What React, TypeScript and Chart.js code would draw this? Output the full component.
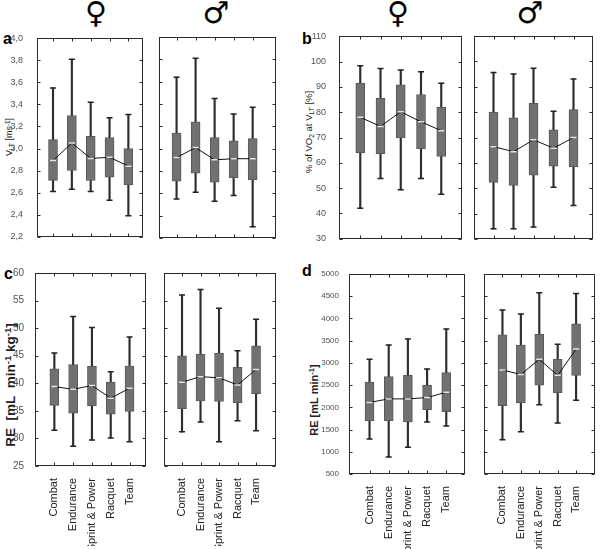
import React, { useEffect, useRef } from "react";
import { Chart, registerables } from "chart.js";

Chart.register(...registerables);

// ---------- categories ----------
const categories = ["Combat", "Endurance", "Sprint & Power", "Racquet", "Team"];

// ---------- panel a : V_LT [m s-1] ----------
const vltFemaleMin = [2.61, 2.63, 2.61, 2.53, 2.39];
const vltFemaleQ1 = [2.71, 2.8, 2.71, 2.74, 2.67];
const vltFemaleMedian = [2.89, 3.05, 2.91, 2.92, 2.84];
const vltFemaleQ3 = [3.08, 3.3, 3.11, 3.1, 3.0];
const vltFemaleMax = [3.55, 3.81, 3.42, 3.28, 3.31];

const vltMaleMin = [2.55, 2.61, 2.53, 2.58, 2.3];
const vltMaleQ1 = [2.71, 2.78, 2.7, 2.74, 2.72];
const vltMaleMedian = [2.92, 3.01, 2.9, 2.91, 2.91];
const vltMaleQ3 = [3.14, 3.24, 3.1, 3.07, 3.09];
const vltMaleMax = [3.64, 3.81, 3.45, 3.31, 3.37];

// ---------- panel b : % of VO2 at V_LT ----------
const pctFemaleMin = [42, 53.8, 49.3, 53.8, 47.5];
const pctFemaleQ1 = [64, 63.6, 69.8, 65.6, 62.5];
const pctFemaleMedian = [78, 74.4, 80.2, 76.2, 72.7];
const pctFemaleQ3 = [91.5, 85.5, 90.8, 87, 82];
const pctFemaleMax = [98.4, 97.3, 96.7, 96, 91.5];

const pctMaleMin = [34, 34, 34.7, 50.4, 43.2];
const pctMaleQ1 = [52.3, 51.1, 55.2, 58.7, 58.5];
const pctMaleMedian = [66.4, 64.4, 69.1, 65.8, 70];
const pctMaleQ3 = [80, 77.8, 83.5, 73, 81];
const pctMaleMax = [95.6, 95, 97.3, 80.3, 93.1];

// ---------- panel c : RE [mL min-1 kg-1] ----------
const reKgFemaleMin = [31.5, 28.6, 29.7, 30.1, 29.4];
const reKgFemaleQ1 = [36, 34.6, 35.9, 34.4, 34.9];
const reKgFemaleMedian = [39.4, 38.9, 39.6, 37.3, 39.1];
const reKgFemaleQ3 = [42.6, 43.4, 43.1, 40.2, 43.1];
const reKgFemaleMax = [45.5, 52.1, 50.1, 42.1, 48.4];

const reKgMaleMin = [31.2, 33, 29.4, 33.2, 31.4];
const reKgMaleQ1 = [35.4, 36.8, 36.7, 36.5, 38.1];
const reKgMaleMedian = [40.2, 41.2, 41, 39.7, 42.5];
const reKgMaleQ3 = [45, 45.3, 45.5, 42.9, 46.8];
const reKgMaleMax = [56, 57, 53.6, 45.9, 51.6];

// ---------- panel d : RE [mL min-1] ----------
const reAbsFemaleMin = [1290, 880, 1100, 1670, 1580];
const reAbsFemaleQ1 = [1700, 1700, 1670, 1950, 1900];
const reAbsFemaleMedian = [2110, 2190, 2190, 2220, 2340];
const reAbsFemaleQ3 = [2560, 2690, 2720, 2500, 2780];
const reAbsFemaleMax = [3080, 3400, 3540, 2860, 3760];

const reAbsMaleMin = [1270, 1450, 2060, 1650, 2160];
const reAbsMaleQ1 = [2040, 2100, 2500, 2330, 2720];
const reAbsMaleMedian = [2840, 2740, 3080, 2720, 3310];
const reAbsMaleQ3 = [3630, 3400, 3640, 3080, 3880];
const reAbsMaleMax = [4190, 4100, 4580, 3420, 4560];

// ---------- axis ranges ----------
const vltAxis = { min: 2.2, max: 4.0, step: 0.2 };
const pctAxis = { min: 30, max: 110, step: 10 };
const reKgAxis = { min: 25, max: 60, step: 5 };
const reAbsAxis = { min: 500, max: 5000, step: 500 };

type Stats = { min: number[]; q1: number[]; med: number[]; q3: number[]; max: number[] };
type Spec = {
  l: number; t: number; r: number; b: number;
  xMin: number; xMax: number;
  axis: { min: number; max: number; step: number };
  stats: Stats;
  yLabels: boolean; xLabels: boolean;
  yFontSize: number; yPad: number;
  fmt: (v: number) => string;
  pr: number;
};

const comma = (v: number) => v.toFixed(1).replace(".", ",");
const plain = (v: number) => String(Math.round(v));
const TICKFONT = 'Arial, "Liberation Sans", sans-serif';

const panels: Spec[] = [
  { l: 37, t: 37, r: 144, b: 238, xMin: 0.15, xMax: 5.75, axis: vltAxis,
    stats: { min: vltFemaleMin, q1: vltFemaleQ1, med: vltFemaleMedian, q3: vltFemaleQ3, max: vltFemaleMax },
    yLabels: true, xLabels: false, yFontSize: 9, yPad: 6, fmt: comma, pr: 4 },
  { l: 157, t: 37, r: 277, b: 238, xMin: 0.05, xMax: 6.2, axis: vltAxis,
    stats: { min: vltMaleMin, q1: vltMaleQ1, med: vltMaleMedian, q3: vltMaleQ3, max: vltMaleMax },
    yLabels: false, xLabels: false, yFontSize: 9, yPad: 6, fmt: comma, pr: 4 },
  { l: 339, t: 36, r: 463, b: 239, xMin: -0.05, xMax: 6.0, axis: pctAxis,
    stats: { min: pctFemaleMin, q1: pctFemaleQ1, med: pctFemaleMedian, q3: pctFemaleQ3, max: pctFemaleMax },
    yLabels: true, xLabels: false, yFontSize: 9, yPad: 5, fmt: plain, pr: 4 },
  { l: 472, t: 36, r: 594, b: 239, xMin: 0.0, xMax: 5.95, axis: pctAxis,
    stats: { min: pctMaleMin, q1: pctMaleQ1, med: pctMaleMedian, q3: pctMaleQ3, max: pctMaleMax },
    yLabels: false, xLabels: false, yFontSize: 9, yPad: 5, fmt: plain, pr: 4 },
  { l: 35, t: 273, r: 147, b: 466, xMin: -0.03, xMax: 5.85, axis: reKgAxis,
    stats: { min: reKgFemaleMin, q1: reKgFemaleQ1, med: reKgFemaleMedian, q3: reKgFemaleQ3, max: reKgFemaleMax },
    yLabels: true, xLabels: true, yFontSize: 10, yPad: 3, fmt: plain, pr: 4 },
  { l: 162, t: 273, r: 277, b: 466, xMin: 0.0, xMax: 6.05, axis: reKgAxis,
    stats: { min: reKgMaleMin, q1: reKgMaleQ1, med: reKgMaleMedian, q3: reKgMaleQ3, max: reKgMaleMax },
    yLabels: false, xLabels: true, yFontSize: 10, yPad: 3, fmt: plain, pr: 4 },
  { l: 349, t: 274, r: 466, b: 474, xMin: -0.07, xMax: 5.95, axis: reAbsAxis,
    stats: { min: reAbsFemaleMin, q1: reAbsFemaleQ1, med: reAbsFemaleMedian, q3: reAbsFemaleQ3, max: reAbsFemaleMax },
    yLabels: true, xLabels: true, yFontSize: 8, yPad: 2, fmt: plain, pr: 4 },
  { l: 482, t: 274, r: 599, b: 474, xMin: -0.03, xMax: 6.0, axis: reAbsAxis,
    stats: { min: reAbsMaleMin, q1: reAbsMaleQ1, med: reAbsMaleMedian, q3: reAbsMaleQ3, max: reAbsMaleMax },
    yLabels: false, xLabels: true, yFontSize: 8, yPad: 2, fmt: plain, pr: 1 },
];

const framePlugin = {
  id: "frame",
  afterDraw(chart: any) {
    const { ctx, chartArea, scales } = chart;
    const { left, right, top, bottom } = chartArea;
    const L = Math.round(left) + 0.5;
    const R = Math.round(right) - 0.5;
    const T = Math.round(top) + 0.5;
    const B = Math.round(bottom) - 0.5;
    ctx.save();
    ctx.strokeStyle = "#2a2a2a";
    ctx.lineWidth = 1;
    ctx.strokeRect(L, T, R - L, B - T);
    ctx.beginPath();
    scales.y.ticks.forEach((t: any) => {
      const py = Math.round(scales.y.getPixelForValue(t.value)) + 0.5;
      ctx.moveTo(L, py); ctx.lineTo(L + 3, py);
      ctx.moveTo(R - 3, py); ctx.lineTo(R, py);
    });
    scales.x.ticks.forEach((t: any) => {
      const px = Math.round(scales.x.getPixelForValue(t.value)) + 0.5;
      ctx.moveTo(px, T); ctx.lineTo(px, T + 3);
      ctx.moveTo(px, B - 3); ctx.lineTo(px, B);
    });
    ctx.stroke();
    ctx.restore();
  },
};

function BoxPanel({ spec }: { spec: Spec }) {
  const ref = useRef<HTMLCanvasElement>(null);
  const yW = spec.yLabels ? 36 : 4;
  const pt = 10;
  const pr = spec.pr;
  const xH = spec.xLabels ? 80 : 6;
  const pb = spec.xLabels ? 0 : 4;
  const W = spec.r - spec.l + yW + pr;
  const H = spec.b - spec.t + pt + xH + pb;

  useEffect(() => {
    const s = spec.stats;
    const xs = categories.map((_, i) => i + 1);
    const chart = new Chart(ref.current as HTMLCanvasElement, {
      type: "bar",
      data: {
        datasets: [
          {
            type: "bar",
            data: xs.map((x, i) => ({ x, y: [s.min[i], s.max[i]] })),
            backgroundColor: "#2e2e2e",
            borderWidth: 0,
            barThickness: 1.5,
            grouped: false,
            order: 4,
          } as any,
          {
            type: "bar",
            data: xs.map((x, i) => ({ x, y: [s.q1[i], s.q3[i]] })),
            backgroundColor: "#717171",
            borderColor: "#585858",
            borderWidth: 1,
            borderSkipped: false,
            barThickness: 9,
            grouped: false,
            order: 3,
          } as any,
          {
            type: "line",
            data: [
              ...xs.map((x, i) => ({ x, y: s.min[i] })),
              ...xs.map((x, i) => ({ x, y: s.max[i] })),
            ],
            showLine: false,
            pointStyle: "line",
            pointRadius: 3,
            pointBorderColor: "#222",
            pointBorderWidth: 1.5,
            order: 2,
          } as any,
          {
            type: "line",
            data: xs.map((x, i) => ({ x, y: s.med[i] })),
            borderColor: "#111",
            borderWidth: 1,
            tension: 0,
            pointStyle: "line",
            pointRadius: 3,
            pointBorderColor: "#e4e4e4",
            pointBackgroundColor: "#e4e4e4",
            pointBorderWidth: 1.5,
            order: 1,
          } as any,
        ],
      },
      options: {
        responsive: false,
        animation: false,
        events: [],
        layout: { padding: { top: pt, right: pr, bottom: pb, left: 0 } },
        plugins: { legend: { display: false }, tooltip: { enabled: false } },
        scales: {
          x: {
            type: "linear",
            min: spec.xMin,
            max: spec.xMax,
            offset: false,
            grid: { display: false },
            border: { display: false },
            afterBuildTicks: (sc: any) => {
              sc.ticks = xs.map((v) => ({ value: v }));
            },
            afterFit: (sc: any) => {
              sc.height = xH;
            },
            ticks: {
              display: spec.xLabels,
              autoSkip: false,
              minRotation: 90,
              maxRotation: 90,
              padding: 4,
              color: "#222",
              font: { size: 11, family: TICKFONT },
              callback: (v: any) => categories[Math.round(Number(v)) - 1] ?? "",
            },
          },
          y: {
            type: "linear",
            min: spec.axis.min,
            max: spec.axis.max,
            grid: { display: false },
            border: { display: false },
            afterFit: (sc: any) => {
              sc.width = yW;
            },
            ticks: {
              display: spec.yLabels,
              stepSize: spec.axis.step,
              autoSkip: false,
              padding: spec.yPad,
              color: "#505050",
              font: { size: spec.yFontSize, family: TICKFONT },
              callback: (v: any) => spec.fmt(Number(v)),
            },
          },
        } as any,
      },
      plugins: [framePlugin],
    } as any);
    return () => chart.destroy();
  }, []);

  return (
    <canvas
      ref={ref}
      width={W}
      height={H}
      style={{ position: "absolute", left: spec.l - yW, top: spec.t - pt, width: W, height: H }}
    />
  );
}

function VLabel(props: { cx: number; cy: number; size: number; bold?: boolean; children: any }) {
  return (
    <div
      style={{
        position: "absolute",
        left: props.cx,
        top: props.cy,
        transform: "translate(-50%,-50%) rotate(-90deg)",
        whiteSpace: "nowrap",
        fontSize: props.size,
        fontWeight: props.bold ? "bold" : "normal",
        color: "#222",
        lineHeight: 1,
      }}
    >
      {props.children}
    </div>
  );
}

const subS = { fontSize: "0.7em", verticalAlign: "-0.25em" } as const;
const supS = { fontSize: "0.7em", verticalAlign: "0.45em" } as const;

function Sym(props: { cx: number; ch: string }) {
  return (
    <div
      style={{
        position: "absolute",
        left: props.cx,
        top: 13,
        transform: "translate(-50%,-50%)",
        fontFamily: '"DejaVu Sans", sans-serif',
        fontSize: 30,
        lineHeight: 1,
        color: "#000",
      }}
    >
      {props.ch}
    </div>
  );
}

function Letter(props: { x: number; y: number; ch: string }) {
  return (
    <div
      style={{
        position: "absolute",
        left: props.x,
        top: props.y,
        fontWeight: "bold",
        fontSize: 16,
        lineHeight: 1,
        color: "#000",
      }}
    >
      {props.ch}
    </div>
  );
}

export default function App() {
  return (
    <div
      style={{
        position: "absolute",
        left: 0,
        top: 0,
        width: 600,
        height: 549,
        overflow: "hidden",
        background: "#fff",
        fontFamily: 'Arial, "Liberation Sans", sans-serif',
      }}
    >
      <Sym cx={96} ch="♀" />
      <Sym cx={216} ch="♂" />
      <Sym cx={398} ch="♀" />
      <Sym cx={530} ch="♂" />

      <Letter x={3} y={31} ch="a" />
      <Letter x={302} y={31} ch="b" />
      <Letter x={4} y={266} ch="c" />
      <Letter x={302} y={263} ch="d" />

      <VLabel cx={10} cy={137} size={9}>
        V<span style={subS}>LT</span> [ms<span style={supS}>-1</span>]
      </VLabel>
      <VLabel cx={310} cy={132} size={9.5}>
        % of VO<span style={subS}>2</span> at V<span style={subS}>LT</span> [%]
      </VLabel>
      <VLabel cx={10} cy={385} size={13.5} bold>
        RE&nbsp; [mL&nbsp; min<span style={supS}>-1</span> kg<span style={supS}>-1</span>]
      </VLabel>
      <VLabel cx={314} cy={400} size={11} bold>
        RE [mL min<span style={supS}>-1</span>]
      </VLabel>

      {panels.map((p, i) => (
        <BoxPanel key={i} spec={p} />
      ))}
    </div>
  );
}
